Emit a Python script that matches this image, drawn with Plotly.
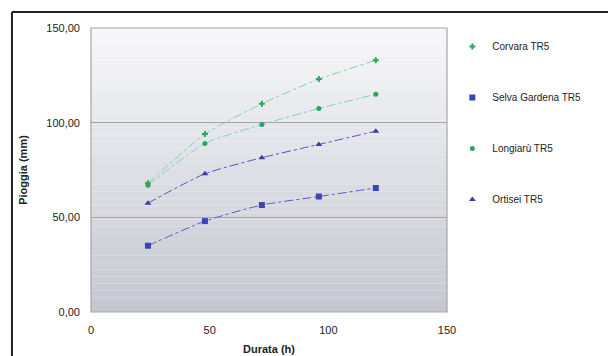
import plotly.graph_objects as go

durata = [24, 48, 72, 96, 120]
corvara = [68, 94, 110, 123, 133]
selva = [35, 48, 56.5, 61, 65.5]
longiaru = [67, 89, 99, 107.5, 115]
ortisei = [57.5, 73, 81.5, 88.5, 95.5]

names = ["Corvara TR5", "Selva Gardena TR5", "Longiarù TR5", "Ortisei TR5"]
series = [corvara, selva, longiaru, ortisei]
marker_syms = ["cross", "square", "circle", "triangle-up"]
marker_cols = ["#2aa55c", "#3b44b4", "#2aa55c", "#3a3aa8"]
line_cols = ["#7fd0b0", "#5a5ac8", "#7fd0c0", "#5a50c8"]
marker_sizes = [5, 6, 5, 6]

fig = go.Figure()
for i, (n, s) in enumerate(zip(names, series)):
    fig.add_trace(go.Scatter(
        x=durata, y=s, name=n, mode="lines+markers", showlegend=False,
        line=dict(color=line_cols[i], width=1, dash="dashdot", shape="spline", smoothing=0.6),
        marker=dict(symbol=marker_syms[i], color=marker_cols[i], size=marker_sizes[i]),
    ))
for i, n in enumerate(names):
    fig.add_trace(go.Scatter(
        x=[None], y=[None], name=n, mode="markers", legendgroup=n,
        marker=dict(symbol=marker_syms[i], color=marker_cols[i], size=marker_sizes[i]),
    ))

# gradient plot background
shapes = []
N = 40
top = (248, 248, 250)
bot = (196, 199, 208)
for k in range(N):
    t = (k + 0.5) / N
    c = tuple(int(round(top[j] + (bot[j] - top[j]) * t)) for j in range(3))
    shapes.append(dict(type="rect", xref="x domain", yref="y domain",
                       x0=0, x1=1, y0=1 - (k + 1) / N, y1=1 - k / N,
                       fillcolor="rgb(%d,%d,%d)" % c, line=dict(width=0), layer="below"))
shapes.append(dict(type="rect", xref="x domain", yref="y domain", x0=0, x1=1, y0=0, y1=1,
                   line=dict(color="#a8a4a8", width=1.2), fillcolor="rgba(0,0,0,0)", layer="above"))
shapes.append(dict(type="line", xref="paper", yref="paper", x0=-0.222, x1=1.5, y0=1.056, y1=1.056,
                   line=dict(color="#222", width=2)))
shapes.append(dict(type="line", xref="paper", yref="paper", x0=-0.222, x1=-0.222, y0=-0.2, y1=1.056,
                   line=dict(color="#222", width=2)))

fig.update_layout(
    width=608, height=356,
    margin=dict(l=91, r=161, t=28, b=44, autoexpand=False),
    paper_bgcolor="white", plot_bgcolor="rgba(0,0,0,0)",
    separators=",.",
    font=dict(family="Liberation Sans, Arial, sans-serif", size=11, color="#222"),
    shapes=shapes,
    showlegend=True,
    legend=dict(x=1.015, y=0.986, xanchor="left", yanchor="top", tracegroupgap=32,
                font=dict(size=10, color="#222"), bgcolor="rgba(0,0,0,0)", itemwidth=30),
    xaxis=dict(range=[0, 150], tickvals=[0, 50, 100, 150], showgrid=False, zeroline=False,
               showline=False, ticks="", tickfont=dict(size=11), ticklabelstandoff=10,
               automargin=False,
               title=dict(text="<b>Durata (h)</b>", font=dict(size=11), standoff=10)),
    yaxis=dict(range=[0, 150], tickvals=[0, 50, 100, 150], tickformat=".2f", showgrid=True,
               gridcolor="#a8a6a8", gridwidth=1, zeroline=False, showline=False, ticks="",
               tickfont=dict(size=11), ticklabelstandoff=10, automargin=False,
               title=dict(text="<b>Pioggia (mm)</b>", font=dict(size=11), standoff=16)),
)

fig.write_html("out.html")
